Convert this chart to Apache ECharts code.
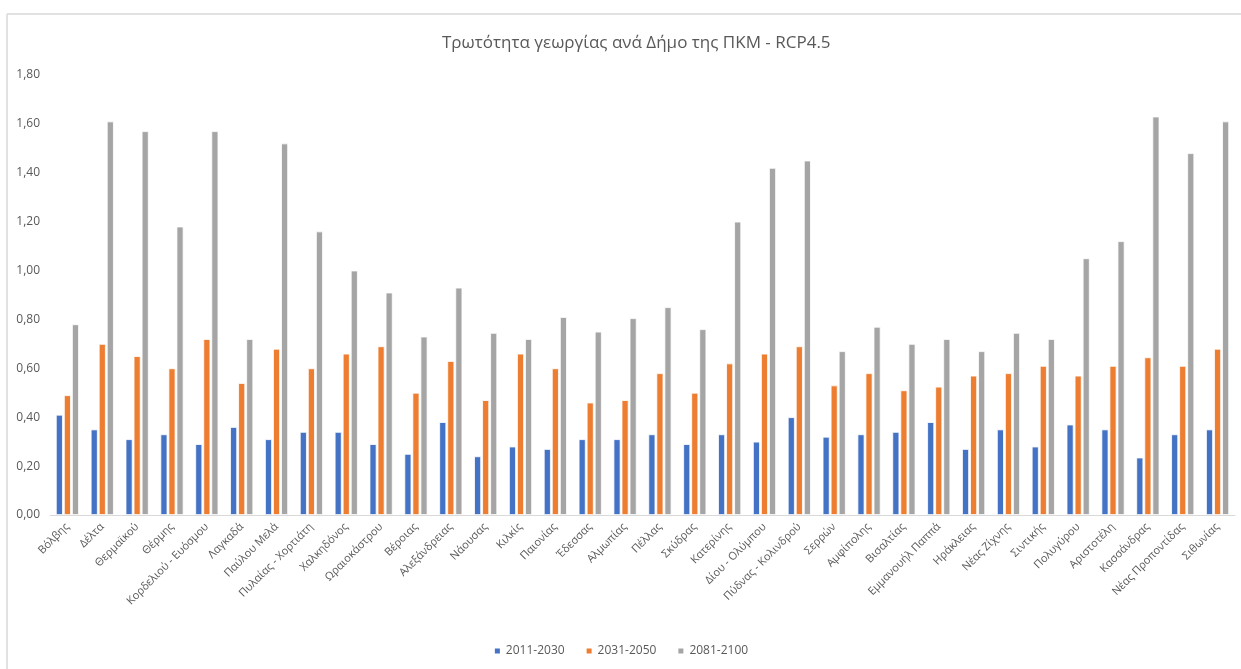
<!DOCTYPE html>
<html>
<head>
<meta charset="utf-8">
<title>Τρωτότητα γεωργίας ανά Δήμο της ΠΚΜ - RCP4.5</title>
<script src="https://cdn.jsdelivr.net/npm/echarts@6/dist/echarts.min.js"></script>
<style>
  html, body { margin: 0; padding: 0; background: #ffffff; }
  #chart { width: 1241px; height: 669px; }
</style>
</head>
<body>
<div id="chart"></div>
<script>
// Municipalities of Central Macedonia
const municipalities = [
  'Βόλβης', 'Δέλτα', 'Θερμαϊκού', 'Θέρμης', 'Κορδελιού - Ευόσμου', 'Λαγκαδά',
  'Παύλου Μελά', 'Πυλαίας - Χορτιάτη', 'Χαλκηδόνος', 'Ωραιοκάστρου', 'Βέροιας',
  'Αλεξάνδρειας', 'Νάουσας', 'Κιλκίς', 'Παιονίας', 'Έδεσσας', 'Αλμωπίας', 'Πέλλας',
  'Σκύδρας', 'Κατερίνης', 'Δίου - Ολύμπου', 'Πύδνας - Κολινδρού', 'Σερρών',
  'Αμφίπολης', 'Βισαλτίας', 'Εμμανουήλ Παππά', 'Ηράκλειας', 'Νέας Ζίχνης',
  'Σιντικής', 'Πολυγύρου', 'Αριστοτέλη', 'Κασσάνδρας', 'Νέας Προποντίδας', 'Σιθωνίας'
];

// Vulnerability index per period
const period1 = [
  0.41, 0.35, 0.31, 0.33, 0.29, 0.36, 0.31, 0.34, 0.34, 0.29, 0.25,
  0.38, 0.24, 0.28, 0.27, 0.31, 0.31, 0.33, 0.29, 0.33, 0.30, 0.40,
  0.32, 0.33, 0.34, 0.38, 0.27, 0.35, 0.28, 0.37, 0.35, 0.235, 0.33, 0.35
];
const period2 = [
  0.49, 0.70, 0.65, 0.60, 0.72, 0.54, 0.68, 0.60, 0.66, 0.69, 0.50,
  0.63, 0.47, 0.66, 0.60, 0.46, 0.47, 0.58, 0.50, 0.62, 0.66, 0.69,
  0.53, 0.58, 0.51, 0.525, 0.57, 0.58, 0.61, 0.57, 0.61, 0.645, 0.61, 0.68
];
const period3 = [
  0.78, 1.61, 1.57, 1.18, 1.57, 0.72, 1.52, 1.16, 1.00, 0.91, 0.73,
  0.93, 0.745, 0.72, 0.81, 0.75, 0.805, 0.85, 0.76, 1.20, 1.42, 1.45,
  0.67, 0.77, 0.70, 0.72, 0.67, 0.745, 0.72, 1.05, 1.12, 1.63, 1.48, 1.61
];

const seriesNames = ['2011-2030', '2031-2050', '2081-2100'];
const seriesColors = ['#4472C4', '#ED7D31', '#A5A5A5'];
const seriesData = [period1, period2, period3];

const textColor = '#595959';
const fontFamily = '"Open Sans", "Noto Sans", sans-serif';

const chart = echarts.init(document.getElementById('chart'), null, { renderer: 'canvas' });

chart.setOption({
  animation: false,
  backgroundColor: '#ffffff',
  textStyle: { fontFamily: fontFamily },
  title: {
    text: 'Τρωτότητα γεωργίας ανά Δήμο της ΠΚΜ - RCP4.5',
    left: 437,
    top: 30,
    textStyle: { color: textColor, fontSize: 17, fontWeight: 'normal', fontFamily: fontFamily }
  },
  legend: {
    bottom: 7,
    left: 'center',
    icon: 'rect',
    itemWidth: 7,
    itemHeight: 7,
    itemGap: 20,
    textStyle: { color: textColor, fontSize: 12, fontFamily: fontFamily },
    data: seriesNames
  },
  grid: { left: 50, right: 6, top: 75, bottom: 154, containLabel: false },
  xAxis: {
    type: 'category',
    data: municipalities,
    axisLine: { lineStyle: { color: '#d9d9d9', width: 1 } },
    axisTick: { show: false },
    axisLabel: {
      interval: 0,
      rotate: 45,
      color: textColor,
      fontSize: 11,
      margin: 10,
      fontFamily: fontFamily
    }
  },
  yAxis: {
    type: 'value',
    min: 0,
    max: 1.8,
    interval: 0.2,
    axisLine: { show: false },
    axisTick: { show: false },
    splitLine: { show: false },
    axisLabel: {
      color: textColor,
      fontSize: 12,
      margin: 10,
      fontFamily: fontFamily,
      formatter: v => v.toFixed(2).replace('.', ',')
    }
  },
  graphic: [
    { type: 'line', shape: { x1: 7, y1: 14, x2: 1241, y2: 14 }, style: { stroke: '#d9d9d9', lineWidth: 1.5 }, silent: true },
    { type: 'line', shape: { x1: 7, y1: 14, x2: 7, y2: 669 }, style: { stroke: '#d9d9d9', lineWidth: 1.5 }, silent: true }
  ],
  series: seriesNames.map((name, i) => ({
    name: name,
    type: 'bar',
    data: seriesData[i],
    barWidth: 7,
    barGap: '15%',
    itemStyle: { color: seriesColors[i], borderColor: '#ffffff', borderWidth: 0.8 }
  }))
});
</script>
</body>
</html>
